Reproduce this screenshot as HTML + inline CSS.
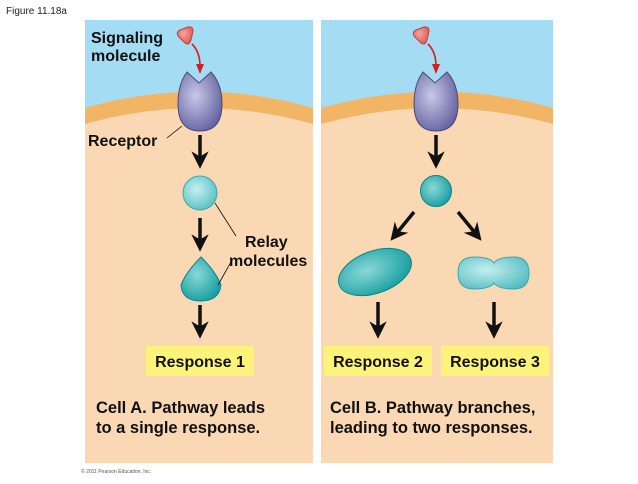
<!DOCTYPE html>
<html><head><meta charset="utf-8"><style>
body{margin:0;background:#fff;width:638px;height:479px;overflow:hidden}
svg text{font-family:"Liberation Sans",Arial,sans-serif}
</style></head><body>
<svg width="638" height="479" viewBox="0 0 638 479" xmlns="http://www.w3.org/2000/svg">
<defs>
<radialGradient id="rp" cx="0.4" cy="0.4" r="0.7"><stop offset="0" stop-color="#c8c8ea"/><stop offset="1" stop-color="#5e5c9c"/></radialGradient>
<radialGradient id="tl" cx="0.4" cy="0.4" r="0.7"><stop offset="0" stop-color="#c4f0f0"/><stop offset="1" stop-color="#52bcc0"/></radialGradient>
<radialGradient id="td" cx="0.4" cy="0.4" r="0.7"><stop offset="0" stop-color="#8ad8d8"/><stop offset="1" stop-color="#0f9a9c"/></radialGradient>
<radialGradient id="rd" cx="0.4" cy="0.4" r="0.7"><stop offset="0" stop-color="#f5a49c"/><stop offset="1" stop-color="#d9544c"/></radialGradient>
<clipPath id="cA"><rect x="85" y="20" width="228" height="443"/></clipPath>
<clipPath id="cB"><rect x="321" y="20" width="232" height="443"/></clipPath>
<marker id="ah" viewBox="0 0 10 10" refX="5" refY="5" markerWidth="5" markerHeight="5" orient="auto"><path d="M0,0 L10,5 L0,10 L3,5z" fill="#111"/></marker>
</defs>
<text x="6" y="14" font-size="10" fill="#222">Figure 11.18a</text>
<g clip-path="url(#cA)">
<rect x="85" y="20" width="228" height="443" fill="#fad8b4"/>
<path d="M85,20 H313 V108 Q199,75 85,108Z" fill="#a3dcf3"/>
<path d="M85,108 Q199,75 313,108 V124 Q199,92 85,124Z" fill="#f2b565"/>
</g>
<g clip-path="url(#cB)">
<rect x="321" y="20" width="232" height="443" fill="#fad8b4"/>
<path d="M321,20 H553 V108 Q437,75 321,108Z" fill="#a3dcf3"/>
<path d="M321,108 Q437,75 553,108 V124 Q437,92 321,124Z" fill="#f2b565"/>
</g>
<g id="recA">
<path d="M187,72 L199,83 L211,72 Q222,84 222,104 Q222,131 200,131 Q178,131 178,104 Q178,84 187,72Z" fill="url(#rp)" stroke="#4a487a" stroke-width="1"/>
<path d="M178,36 Q176,32 180,30 L188,27 Q193,26 193,31 L191,40 Q189,46 185,43Z" fill="url(#rd)" stroke="#b9443c" stroke-width="1" stroke-linejoin="round"/>
<path d="M192,44 Q200,52 200,66" fill="none" stroke="#d02020" stroke-width="1.6"/>
<path d="M196,64 L200,74 L204,64Z" fill="#d02020"/>
</g>
<use href="#recA" x="236"/>
<g font-size="16" font-weight="bold" fill="#111">
<text x="91" y="43">Signaling</text>
<text x="91" y="61">molecule</text>
<text x="88" y="146">Receptor</text>
<text x="245" y="247">Relay</text>
<text x="229" y="266">molecules</text>
</g>
<line x1="167" y1="138" x2="182" y2="126" stroke="#111" stroke-width="0.8"/>
<g stroke="#111" stroke-width="3.5" marker-end="url(#ah)">
<line x1="200" y1="135" x2="200" y2="160"/>
<line x1="200" y1="218" x2="200" y2="243"/>
<line x1="200" y1="305" x2="200" y2="330"/>
<line x1="436" y1="135" x2="436" y2="160"/>
<line x1="414" y1="212" x2="396" y2="234"/>
<line x1="458" y1="212" x2="476" y2="234"/>
<line x1="378" y1="302" x2="378" y2="330"/>
<line x1="494" y1="302" x2="494" y2="330"/>
</g>
<circle cx="200" cy="193" r="17" fill="url(#tl)" stroke="#3aa8ac"/>
<path d="M201,257 Q216,272 221,285 Q219,301 201,301 Q182,301 181,285 Q186,272 201,257Z" fill="url(#td)" stroke="#0a8588"/>
<path d="M215,203 L236,236 M218,285 L231,262" stroke="#111" stroke-width="0.8" fill="none"/>
<circle cx="436" cy="191" r="15.5" fill="url(#td)" stroke="#0a8588"/>
<ellipse cx="375" cy="272" rx="38" ry="21" transform="rotate(-20 375 272)" fill="url(#td)" stroke="#0a8588"/>
<path d="M474,257 Q490,257 494,263 Q498,257 514,257 Q529,257 529,273 Q529,289 514,289 Q498,289 494,283 Q490,289 474,289 Q458,289 458,273 Q458,257 474,257Z" fill="url(#tl)" stroke="#3aa8ac"/>
<rect x="146" y="346" width="108" height="30" fill="#fbf37a"/>
<rect x="324" y="346" width="108" height="30" fill="#fbf37a"/>
<rect x="441" y="346" width="108" height="30" fill="#fbf37a"/>
<g font-size="16" font-weight="bold" fill="#111" text-anchor="middle">
<text x="200" y="367">Response 1</text>
<text x="378" y="367">Response 2</text>
<text x="495" y="367">Response 3</text>
</g>
<g font-size="16.5" font-weight="bold" fill="#111">
<text x="96" y="413">Cell A. Pathway leads</text>
<text x="96" y="433">to a single response.</text>
<text x="330" y="413">Cell B. Pathway branches,</text>
<text x="330" y="433">leading to two responses.</text>
</g>
<text x="81" y="473" font-size="5" fill="#555">© 2011 Pearson Education, Inc.</text>
</svg>
</body></html>
